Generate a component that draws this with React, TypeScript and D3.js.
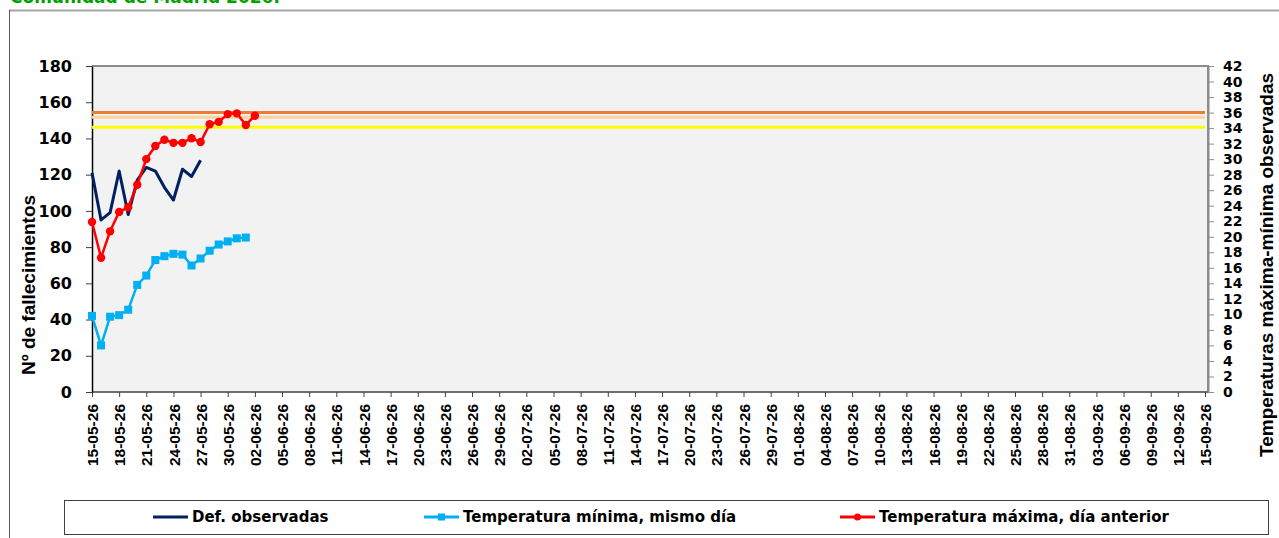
import React, { useEffect, useRef } from 'react';
import * as d3 from 'd3';

// axis categories (one label every 3 days)
const tickLabels = [
    '15-05-26', '18-05-26', '21-05-26', '24-05-26', '27-05-26', '30-05-26',
    '02-06-26', '05-06-26', '08-06-26', '11-06-26', '14-06-26', '17-06-26', '20-06-26', '23-06-26', '26-06-26', '29-06-26',
    '02-07-26', '05-07-26', '08-07-26', '11-07-26', '14-07-26', '17-07-26', '20-07-26', '23-07-26', '26-07-26', '29-07-26',
    '01-08-26', '04-08-26', '07-08-26', '10-08-26', '13-08-26', '16-08-26', '19-08-26', '22-08-26', '25-08-26', '28-08-26', '31-08-26',
    '03-09-26', '06-09-26', '09-09-26', '12-09-26', '15-09-26',
];
const leftTicks = [0, 20, 40, 60, 80, 100, 120, 140, 160, 180];
const rightTicks = [0, 2, 4, 6, 8, 10, 12, 14, 16, 18, 20, 22, 24, 26, 28, 30, 32, 34, 36, 38, 40, 42];

// daily series, starting 15-05-26
const deaths = [121, 95, 99, 122, 98, 117, 124, 122, 113, 106, 123, 119, 128];
const tempMin = [9.8, 6.0, 9.7, 9.9, 10.6, 13.8, 15.0, 17.0, 17.5, 17.8, 17.7, 16.3, 17.2, 18.2, 19.0, 19.4, 19.8, 19.9];
const tempMax = [21.9, 17.3, 20.7, 23.2, 23.8, 26.7, 30.0, 31.7, 32.5, 32.1, 32.1, 32.7, 32.2, 34.5, 34.8, 35.8, 35.9, 34.4, 35.6];

// temperature threshold lines
const thresholds = [36, 35.4, 34.1];
const thresholdColors = ['#ed7d31', '#fdd49e', '#ffff00'];

const legendNames = ['Def. observadas', 'Temperatura mínima, mismo día', 'Temperatura máxima, día anterior'];

const W = 1279, H = 538;
const ARIAL = '"Liberation Sans", Arial, sans-serif';
const WIDE = '"DejaVu Sans", Verdana, sans-serif';

const App: React.FC = () => {
    const svgRef = useRef<SVGSVGElement>(null);

    useEffect(() => {
        const svg = d3.select(svgRef.current);
        svg.selectAll('*').remove();

        const left = 92, right = 1208, top = 66, bottom = 392;
        const parse = d3.timeParse('%d-%m-%y');
        const fmt = d3.timeFormat('%d-%m-%y');
        const start = parse(tickLabels[0])!;
        const end = parse(tickLabels[tickLabels.length - 1])!;

        const x = d3.scaleTime().domain([start, end]).range([left, 1205]);
        const yL = d3.scaleLinear().domain([0, 180]).range([bottom, top]);
        const yR = d3.scaleLinear().domain([0, 42]).range([bottom, top]);
        const dayX = (i: number) => x(d3.timeDay.offset(start, i));

        // title (cut at top, as in the source)
        svg.append('text')
            .attr('x', 10).attr('y', 3)
            .attr('fill', '#00a000')
            .attr('font-family', WIDE).attr('font-weight', 'bold').attr('font-size', 17)
            .text('Comunidad de Madrid 2026.');

        // chart frame
        svg.append('line').attr('x1', 9).attr('x2', W).attr('y1', 10.5).attr('y2', 10.5)
            .attr('stroke', '#a6a6a6').attr('stroke-width', 2);
        svg.append('line').attr('x1', 9.5).attr('x2', 9.5).attr('y1', 10).attr('y2', H)
            .attr('stroke', '#595959').attr('stroke-width', 1);

        // plot area
        svg.append('rect')
            .attr('x', left).attr('y', top)
            .attr('width', right - left).attr('height', bottom - top)
            .attr('fill', '#f2f2f2');
        svg.append('path')
            .attr('d', `M${left},${top}H${right}V${bottom}`)
            .attr('fill', 'none').attr('stroke', '#8c8c8c').attr('stroke-width', 2);

        // bottom axis
        const xAxis = svg.append('g')
            .attr('transform', `translate(0,${bottom})`)
            .call(d3.axisBottom(x)
                .tickValues(tickLabels.map(d => parse(d)!))
                .tickFormat(d => fmt(d as Date))
                .tickSize(5).tickSizeOuter(0));
        xAxis.select('.domain').attr('stroke', '#404040').attr('stroke-width', 1.5)
            .attr('d', `M${left},0H${right}`);
        xAxis.selectAll('line').attr('stroke', '#404040');
        xAxis.selectAll('text')
            .attr('transform', 'rotate(-90)')
            .attr('text-anchor', 'end')
            .attr('x', -12).attr('y', 0).attr('dy', '0.36em')
            .attr('fill', '#000')
            .attr('font-family', ARIAL).attr('font-weight', 'bold').attr('font-size', 15.5);

        // left axis
        const yAxisL = svg.append('g')
            .attr('transform', `translate(${left},0)`)
            .call(d3.axisLeft(yL).tickValues(leftTicks).tickSize(6).tickSizeOuter(0).tickPadding(14));
        yAxisL.select('.domain').attr('stroke', '#000').attr('stroke-width', 1.5);
        yAxisL.selectAll('line').attr('stroke', '#404040');
        yAxisL.selectAll('text')
            .attr('fill', '#000')
            .attr('font-family', WIDE).attr('font-weight', 'bold').attr('font-size', 16);

        // right axis
        const yAxisR = svg.append('g')
            .attr('transform', `translate(${right},0)`)
            .call(d3.axisRight(yR).tickValues(rightTicks).tickSize(6).tickSizeOuter(0).tickPadding(9));
        yAxisR.select('.domain').attr('stroke', '#8c8c8c').attr('stroke-width', 2);
        yAxisR.selectAll('line').attr('stroke', '#8c8c8c');
        yAxisR.selectAll('text')
            .attr('fill', '#000')
            .attr('font-family', WIDE).attr('font-weight', 'bold').attr('font-size', 14);

        // axis titles
        svg.append('text')
            .attr('transform', `translate(35,285) rotate(-90)`)
            .attr('text-anchor', 'middle')
            .attr('font-family', ARIAL).attr('font-weight', 'bold').attr('font-size', 19)
            .text('Nº de fallecimientos');
        svg.append('text')
            .attr('transform', `translate(1273,265) rotate(-90)`)
            .attr('text-anchor', 'middle')
            .attr('font-family', ARIAL).attr('font-weight', 'bold').attr('font-size', 19)
            .text('Temperaturas máxima-mínima observadas');

        // thresholds
        svg.selectAll('.thr')
            .data(thresholds)
            .enter().append('line')
            .attr('class', 'thr')
            .attr('x1', left).attr('x2', 1205)
            .attr('y1', d => yR(d)).attr('y2', d => yR(d))
            .attr('stroke', (d, i) => thresholdColors[i])
            .attr('stroke-width', 3);

        // series
        const lineL = d3.line<number>().x((d, i) => dayX(i)).y(d => yL(d));
        const lineR = d3.line<number>().x((d, i) => dayX(i)).y(d => yR(d));

        svg.append('path').datum(deaths)
            .attr('d', lineL).attr('fill', 'none')
            .attr('stroke', '#002060').attr('stroke-width', 3).attr('stroke-linejoin', 'round');

        svg.append('path').datum(tempMin)
            .attr('d', lineR).attr('fill', 'none')
            .attr('stroke', '#00b0f0').attr('stroke-width', 2.5);
        svg.selectAll('.sq')
            .data(tempMin)
            .enter().append('rect')
            .attr('class', 'sq')
            .attr('x', (d, i) => dayX(i) - 4).attr('y', d => yR(d) - 4)
            .attr('width', 8).attr('height', 8)
            .attr('fill', '#00b0f0');

        svg.append('path').datum(tempMax)
            .attr('d', lineR).attr('fill', 'none')
            .attr('stroke', '#ff0000').attr('stroke-width', 2.5);
        svg.selectAll('.dot')
            .data(tempMax)
            .enter().append('circle')
            .attr('class', 'dot')
            .attr('cx', (d, i) => dayX(i)).attr('cy', d => yR(d))
            .attr('r', 4.2)
            .attr('fill', '#ff0000');

        // legend
        svg.append('rect')
            .attr('x', 64.5).attr('y', 500.5).attr('width', 1204).attr('height', 34)
            .attr('fill', '#fff').attr('stroke', '#404040').attr('stroke-width', 1);
        const legendX = [153, 424, 840];
        const legendColors = ['#002060', '#00b0f0', '#ff0000'];
        const lg = svg.selectAll('.lg')
            .data(legendNames)
            .enter().append('g')
            .attr('class', 'lg')
            .attr('transform', (d, i) => `translate(${legendX[i]},517)`);
        lg.append('line')
            .attr('x1', 0).attr('x2', 35)
            .attr('stroke', (d, i) => legendColors[i])
            .attr('stroke-width', 3);
        lg.filter((d, i) => i === 1).append('rect')
            .attr('x', 14).attr('y', -3.5).attr('width', 7).attr('height', 7).attr('fill', '#00b0f0');
        lg.filter((d, i) => i === 2).append('circle')
            .attr('cx', 17.5).attr('r', 3.5).attr('fill', '#ff0000');
        lg.append('text')
            .attr('x', 39).attr('dy', '0.36em')
            .attr('font-family', WIDE).attr('font-weight', 'bold').attr('font-size', 15)
            .text(d => d);
    }, []);

    return (
        <div style={{ position: 'fixed', left: 0, top: 0, width: W, height: H, background: '#fff' }}>
            <svg ref={svgRef} width={W} height={H}></svg>
        </div>
    );
};

export default App;
